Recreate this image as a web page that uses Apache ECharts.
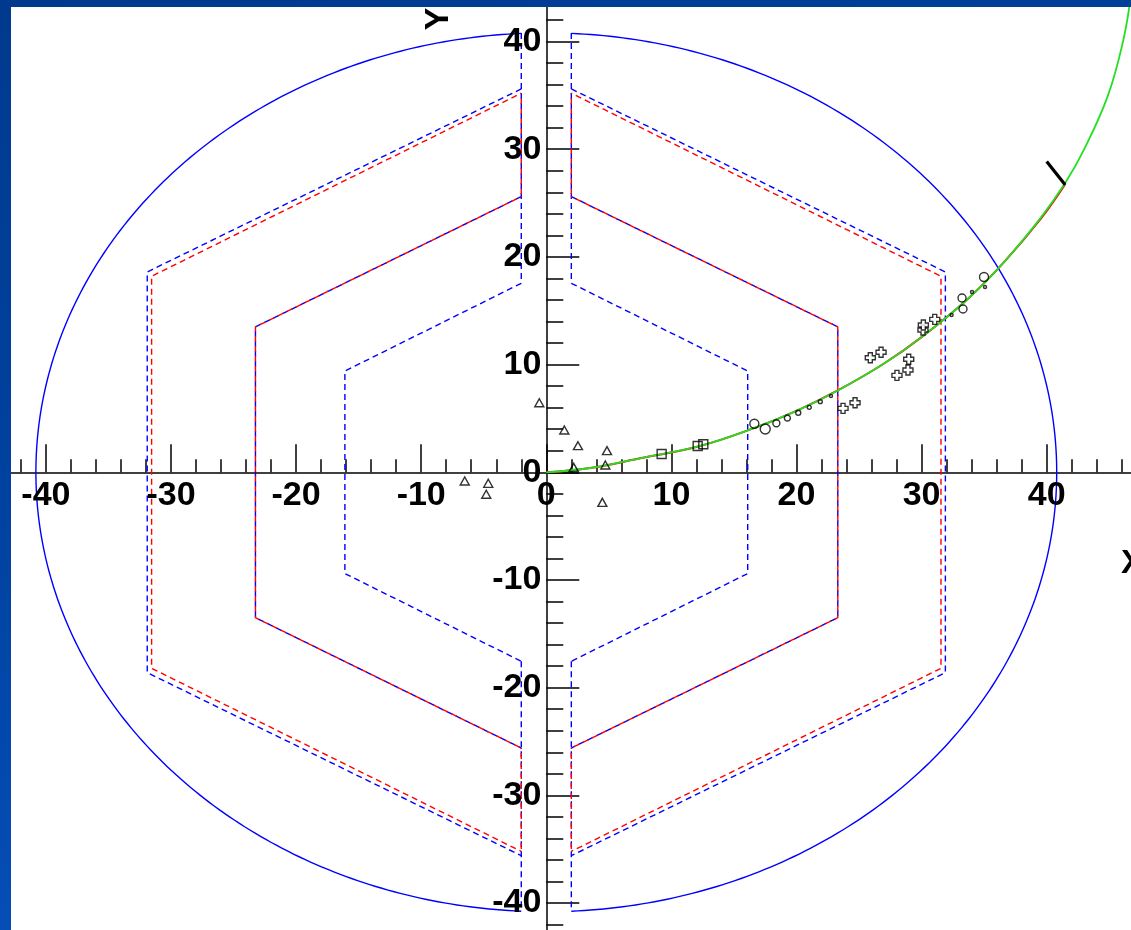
<!DOCTYPE html>
<html>
<head>
<meta charset="utf-8">
<script src="https://cdn.jsdelivr.net/npm/echarts@6/dist/echarts.min.js"></script>
<style>
  html, body { margin: 0; padding: 0; width: 1131px; height: 930px; overflow: hidden;
    background: linear-gradient(165deg, #003a8e 0%, #0043a2 45%, #0a55c6 100%); }
  #chart { position: absolute; left: 11px; top: 7px; width: 1120px; height: 923px; background: #fff; }
</style>
</head>
<body>
<div id="chart"></div>
<script>
// ---- detector outline (cm) ----
const ringRadius = 40.8;      // outer solenoid ring
const ringGap = 2.0;          // half-width of the vertical slot

// left half (x < 0)
const blueOuterL  = [[-2, 35.6], [-31.9, 18.6], [-31.9, -18.6], [-2, -35.6]];
const blueMiddleL = [[-2, 25.6], [-23.25, 13.5], [-23.25, -13.5], [-2, -25.6]];
const blueInnerL  = [[-2, 17.55], [-16.1, 9.4], [-16.1, -9.4], [-2, -17.55]];
const blueSpineTopL = [[-2, 40.8], [-2, 17.55]];
const blueSpineBotL = [[-2, -17.55], [-2, -40.6]];
const redOuterL   = [[-2, 35.2], [-31.55, 18.2], [-31.55, -18.2], [-2, -35.2]];
const redMiddleL  = [[-2, 25.6], [-23.25, 13.5], [-23.25, -13.5], [-2, -25.6]];
const redSpineTopL = [[-2, 35.2], [-2, 25.6]];
const redSpineBotL = [[-2, -25.6], [-2, -35.2]];

// right half (x > 0)
const blueOuterR  = [[2, 35.6], [31.9, 18.6], [31.9, -18.6], [2, -35.6]];
const blueMiddleR = [[2, 25.6], [23.3, 13.5], [23.3, -13.5], [2, -25.6]];
const blueInnerR  = [[2, 17.55], [16.1, 9.4], [16.1, -9.4], [2, -17.55]];
const blueSpineTopR = [[2, 40.8], [2, 17.55]];
const blueSpineBotR = [[2, -17.55], [2, -40.6]];
const redOuterR   = [[2, 35.2], [31.55, 18.2], [31.55, -18.2], [2, -35.2]];
const redMiddleR  = [[2, 25.6], [23.3, 13.5], [23.3, -13.5], [2, -25.6]];
const redSpineTopR = [[2, 35.2], [2, 25.6]];
const redSpineBotR = [[2, -25.6], [2, -35.2]];

// ---- reconstructed track ----
const trackPts = [[0, 0], [3.5, 0.4], [7.5, 1.3], [12.3, 2.45], [16.6, 4.1], [20, 5.7],
  [23.3, 7.6], [27, 10.1], [30, 12.55], [33.6, 16.0], [36.5, 19.4], [39.5, 23.6],
  [41.5, 26.9], [43.0, 30.0], [44.9, 35.0], [46.1, 40.0], [46.7, 44.0]];
const fitPts = [[0, 0], [3.5, 0.4], [7.5, 1.3], [12.3, 2.45], [16.6, 4.1], [20, 5.7],
  [23.3, 7.6], [27, 10.1], [30, 12.55], [33.6, 16.0], [36.5, 19.4], [39.5, 23.5], [41.5, 26.8]];
const trackEnd = [[40.0, 28.85], [41.47, 26.7]];

// ---- hits ----
const triangleHits = [[-0.56, 6.46], [1.44, 3.93], [2.53, 2.47], [4.85, 2.01], [4.72, 0.68],
  [2.19, 0.46], [4.48, -2.79], [-6.52, -0.81], [-4.64, -1.02], [-4.80, -2.04]];
const squareHits = [[9.22, 1.70], [12.1, 2.44], [12.55, 2.6]];
const circleHits = [[16.63, 4.51], [17.5, 4.02], [18.39, 4.55], [19.27, 5.04], [20.14, 5.53],
  [21.02, 6.03], [21.9, 6.56], [22.76, 7.08], [33.23, 16.18], [33.31, 15.16], [34.99, 18.13],
  [32.4, 14.6], [34.03, 16.74], [35.07, 17.2]];
const circleCharge = [9, 10, 7, 6, 5, 4, 4, 3, 8, 8, 9, 3, 3, 3];
const crossHits = [[23.72, 5.94], [24.68, 6.46], [25.9, 10.64], [26.76, 11.14], [28.03, 9.0],
  [28.91, 9.5], [28.97, 10.49], [30.11, 13.21], [30.14, 13.68], [31.05, 14.2]];

// ---- axes ----
const axisRange = [-50, 50];
const majorStep = 10;
const xTickLabels = [-40, -30, -20, -10, 0, 10, 20, 30, 40];
const yTickLabels = [-40, -30, -20, -10, 0, 10, 20, 30, 40];

const FONT = '"Liberation Sans", Arial, Helvetica, sans-serif';
const LABEL_FONT = 'bold 34px ' + FONT;
const BLUE = '#0000ff';
const RED = '#ff0000';

function outline(pts, color, dash, offset, z) {
  return {
    type: 'line', data: pts, symbol: 'none', silent: true, z: z || 2,
    lineStyle: { color: color, width: 1.4, type: dash, dashOffset: offset || 0 }
  };
}

const chart = echarts.init(document.getElementById('chart'), null, { renderer: 'canvas' });

const dash = [6, 4];
const series = [
  // blue layers
  outline(blueOuterL, BLUE, dash), outline(blueOuterR, BLUE, dash),
  outline(blueMiddleL, BLUE, dash), outline(blueMiddleR, BLUE, dash),
  outline(blueInnerL, BLUE, dash), outline(blueInnerR, BLUE, dash),
  outline(blueSpineTopL, BLUE, dash), outline(blueSpineBotL, BLUE, dash),
  outline(blueSpineTopR, BLUE, dash), outline(blueSpineBotR, BLUE, dash),
  // red layers, dashes interleaved with the blue ones
  outline(redOuterL, RED, dash, 5, 3), outline(redOuterR, RED, dash, 5, 3),
  outline(redMiddleL, RED, dash, 5, 3), outline(redMiddleR, RED, dash, 5, 3),
  outline(redSpineTopL, RED, dash, 5, 3), outline(redSpineBotL, RED, dash, 5, 3),
  outline(redSpineTopR, RED, dash, 5, 3), outline(redSpineBotR, RED, dash, 5, 3),
  // solenoid ring: two arcs leaving the slot open
  {
    type: 'custom', data: [[0, 0]], silent: true, z: 2,
    renderItem: function (params, api) {
      const c = api.coord([0, 0]);
      const s = api.size([ringRadius, ringRadius]);
      const d = Math.asin(ringGap / ringRadius);
      function arc(a0, a1) {
        const pts = [];
        const n = 240;
        for (let i = 0; i <= n; i++) {
          const t = a0 + (a1 - a0) * i / n;
          pts.push([c[0] + s[0] * Math.cos(t), c[1] - s[1] * Math.sin(t)]);
        }
        return { type: 'polyline', shape: { points: pts },
          style: { stroke: BLUE, fill: 'none', lineWidth: 1.4 } };
      }
      return { type: 'group', children: [
        arc(Math.PI / 2 + d, 3 * Math.PI / 2 - d),
        arc(-Math.PI / 2 + d, Math.PI / 2 - d)
      ] };
    }
  },
  // fit and track
  { type: 'line', data: fitPts, symbol: 'none', smooth: 0.4, silent: true, z: 4,
    lineStyle: { color: RED, width: 2 } },
  { type: 'line', data: trackPts, symbol: 'none', smooth: 0.4, silent: true, z: 5,
    lineStyle: { color: '#22e022', width: 1.8 } },
  { type: 'line', data: trackEnd, symbol: 'none', silent: true, z: 6,
    lineStyle: { color: '#000', width: 3.2 } },
  // hits
  { type: 'scatter', data: triangleHits, symbol: 'triangle', symbolSize: [9, 8], z: 7,
    itemStyle: { color: 'rgba(255,255,255,0)', borderColor: '#000', borderWidth: 1.4 } },
  { type: 'scatter', data: squareHits, symbol: 'rect', symbolSize: 9, z: 7,
    itemStyle: { color: 'rgba(255,255,255,0)', borderColor: '#000', borderWidth: 1.4 } },
  { type: 'scatter', data: circleHits, symbol: 'circle', z: 7,
    symbolSize: function (v, p) { return circleCharge[p.dataIndex]; },
    itemStyle: { color: 'rgba(255,255,255,0)', borderColor: '#000', borderWidth: 1.4 } },
  { type: 'scatter', data: crossHits, symbol: 'path://M3,0H7V3H10V7H7V10H3V7H0V3H3Z', symbolSize: 10, z: 7,
    itemStyle: { color: '#fff', borderColor: '#000', borderWidth: 1.4 } },
  // tick labels placed on the axes through the axis scales
  { type: 'custom', data: xTickLabels.map(function (v) { return [v, 0]; }), silent: true, z: 9,
    renderItem: function (params, api) {
      const p = api.coord([api.value(0), 0]);
      return { type: 'text', x: p[0], y: p[1] + 23,
        style: { text: String(api.value(0)), font: LABEL_FONT, fill: '#000', align: 'center', verticalAlign: 'middle' } };
    } },
  { type: 'custom', data: yTickLabels.map(function (v) { return [0, v]; }), silent: true, z: 9,
    renderItem: function (params, api) {
      const p = api.coord([0, api.value(1)]);
      return { type: 'text', x: p[0] - 5, y: p[1],
        style: { text: String(api.value(1)), font: LABEL_FONT, fill: '#000', align: 'right', verticalAlign: 'middle' } };
    } }
];

function axis(tickLen, minorLen) {
  return {
    type: 'value', min: axisRange[0], max: axisRange[1], interval: majorStep,
    axisLine: { show: true, onZero: true, lineStyle: { color: '#000', width: 1.5 } },
    axisTick: { show: true, inside: true, length: tickLen, lineStyle: { color: '#000', width: 1.5 } },
    minorTick: { show: true, splitNumber: 5, length: minorLen, lineStyle: { color: '#000', width: 1.5 } },
    axisLabel: { show: false },
    splitLine: { show: false }, minorSplitLine: { show: false }
  };
}

chart.setOption({
  animation: false,
  backgroundColor: '#fff',
  grid: { left: -90.2, top: -73.2, width: 1251, height: 1077, containLabel: false, outerBoundsMode: 'none' },
  xAxis: axis(28, 13),
  yAxis: axis(33, 17),
  graphic: [
    { type: 'text', x: 428, y: 12, rotation: Math.PI / 2, z: 10,
      style: { text: 'Y', font: LABEL_FONT, fill: '#000', align: 'center', verticalAlign: 'middle' } },
    { type: 'text', x: 1110, y: 557, z: 10,
      style: { text: 'X', font: LABEL_FONT, fill: '#000', align: 'left', verticalAlign: 'middle' } }
  ],
  series: series
});
</script>
</body>
</html>
